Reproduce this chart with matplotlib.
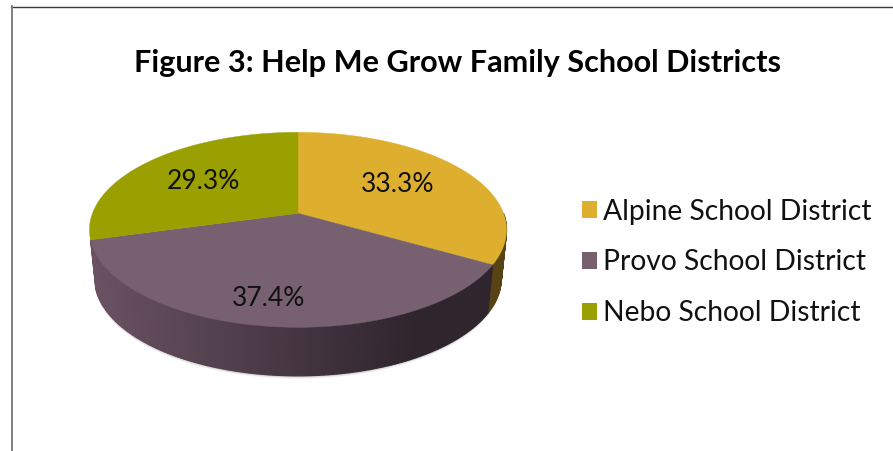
"""Help Me Grow family school districts as a tilted 3D-looking pie"""
import numpy as np
import matplotlib
matplotlib.use('Agg')
import matplotlib.pyplot as plt
from matplotlib.colors import to_rgb
from matplotlib.patches import Patch, Polygon

TITLE = "Figure 3: Help Me Grow Family School Districts"
districts = ["Alpine School District", "Provo School District", "Nebo School District"]
shares = [33.3, 37.4, 29.3]
top_colors = ["#deaf2e", "#77606f", "#99a000"]
wall_light = ["#6b5217", "#6a5263", "#5c6000"]
wall_dark = ["#574213", "#2f252d", "#5c6000"]

# pie geometry in pixels, y grows downward
CX, CY = 298, 213.3
REACH_UP, REACH_DOWN = 81.0, 114.0
HALF_WIDTH = 208.5
DEPTH = 48.5
FOOT_SHRINK = 0.975

persp = (REACH_DOWN - REACH_UP) / (REACH_DOWN + REACH_UP)
y_scale = REACH_UP * (1 + persp)
x_scale = HALF_WIDTH * np.sqrt(1 - persp ** 2)


def project(clock_deg, radius=1.0):
    """Maps a clockwise angle from 12 o'clock on the disc to pixel position"""
    t = np.radians(90 - np.asarray(clock_deg, dtype=float))
    u, v = radius * np.cos(t), radius * np.sin(t)
    w = 1 + persp * v
    return CX + x_scale * u / w, CY - y_scale * v / w


def foot(x, y):
    """Bottom rim below a point on the top rim, a little narrower"""
    return CX + (x - CX) * FOOT_SHRINK, y + DEPTH


fig = plt.figure(figsize=(8.93, 4.51), dpi=100)
ax = fig.add_axes([0, 0, 1, 1])
ax.set_xlim(0, 893)
ax.set_ylim(451, 0)
ax.axis('off')

# frame around the chart, only top and left show
ax.plot([11, 893], [6.5, 6.5], color="#3a3a3a", lw=1.0)
ax.plot([11.5, 11.5], [6, 451], color="#808080", lw=1.4)

edges = np.concatenate([[0], np.cumsum(shares)]) / sum(shares) * 360
wall_end = edges[2]

# soft shadow under the wall
for grow, alpha in [(3.0, 0.05), (2.0, 0.08), (1.0, 0.12)]:
    a = np.linspace(85, wall_end, 200)
    x, y = project(a)
    fx, fy = foot(x, y)
    ax.fill(np.r_[x, fx[::-1]], np.r_[y, fy[::-1] + grow], color="black", alpha=alpha, lw=0, zorder=1)

# the outer wall, drawn in narrow strips so the shade can run across it
for i in range(2):
    lo, hi = max(edges[i], 90.0), edges[i + 1]
    steps = np.arange(lo, hi + 1, 1.0)
    steps[-1] = hi
    for a0, a1 in zip(steps[:-1], steps[1:]):
        x0, y0 = project(a0)
        x1, y1 = project(a1)
        xm = project((a0 + a1) / 2)[0]
        frac = (xm - (CX - HALF_WIDTH)) / (2 * HALF_WIDTH)
        # left end is the light side, shade bottoms out past the middle
        f = min(frac / 0.78, 1.0) if i == 1 else frac
        c = (1 - f) * np.array(to_rgb(wall_light[i])) + f * np.array(to_rgb(wall_dark[i]))
        ax.add_patch(Polygon([(x0, y0), (x1, y1), foot(x1, y1), foot(x0, y0)],
                             closed=True, fc=c, ec=c, lw=0.9, zorder=2))

# top faces
for i in range(len(shares)):
    a = np.linspace(edges[i], edges[i + 1], 120)
    x, y = project(a)
    ax.add_patch(Polygon(np.column_stack([np.r_[CX, x], np.r_[CY, y]]), closed=True,
                         fc=top_colors[i], ec=top_colors[i], lw=0.3, zorder=3))

# percentage labels sit near the mid angle of each slice
label_radius = [0.60, 0.79, 0.607]
label_turn = [-2, 2, -1]
for i, share in enumerate(shares):
    mid = (edges[i] + edges[i + 1]) / 2 + label_turn[i]
    x, y = project(mid, label_radius[i])
    ax.text(x, y, f"{share:.1f}%", ha='center', va='center', fontsize=19,
            family="Lato", color="#111111", zorder=4)

ax.text(458, 63, TITLE, ha='center', va='center', fontsize=22.1,
        family="Lato", fontweight='bold', color="black")

handles = [Patch(fc=c, ec='none') for c in top_colors]
ax.legend(handles, districts, loc='center left', bbox_to_anchor=(0.652, 0.418),
          frameon=False, prop={'family': 'Lato', 'size': 20.3}, labelcolor="#111111",
          handlelength=0.53, handleheight=0.53, handletextpad=0.22, labelspacing=0.88,
          borderpad=0, borderaxespad=0)

fig.savefig('out.png', dpi=100)
